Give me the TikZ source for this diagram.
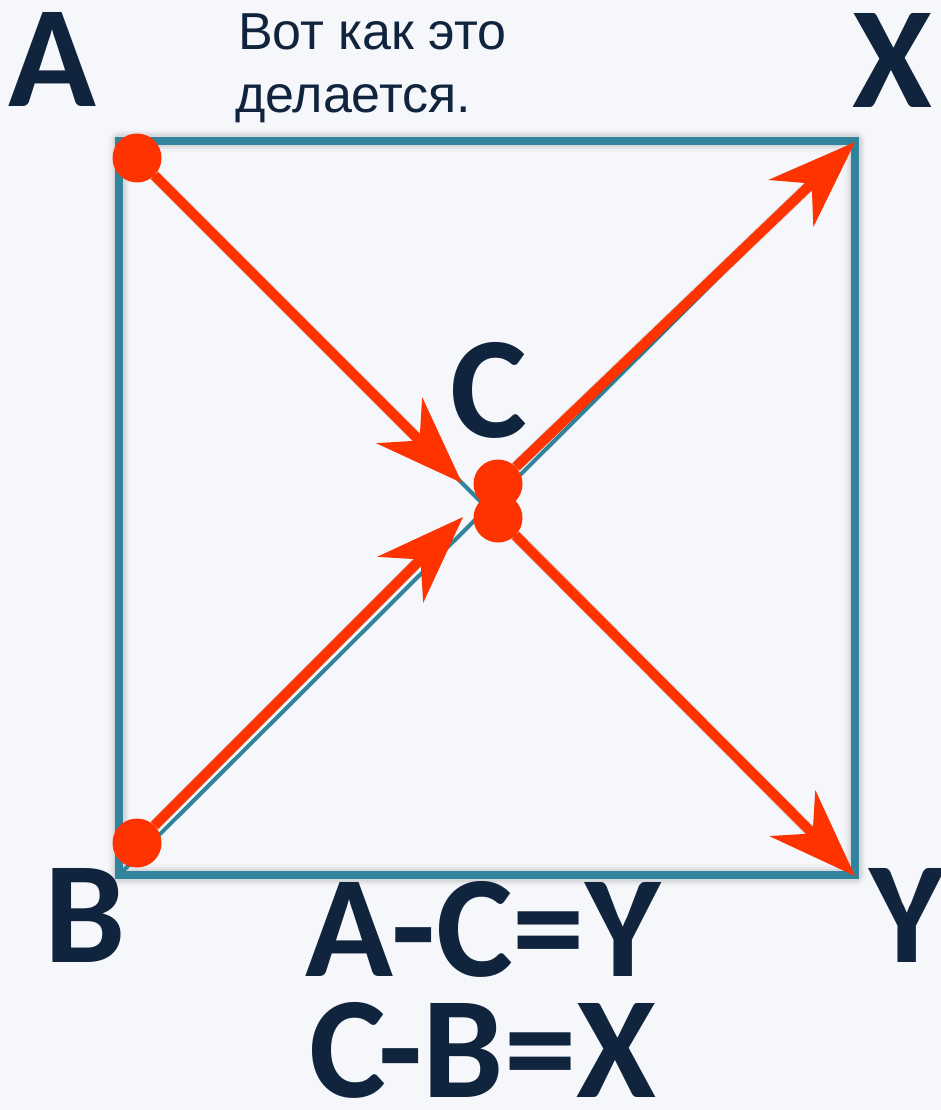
\documentclass[tikz,border=0pt]{standalone}
\usepackage{fontspec}
\newfontfamily\carl{Carlito}
\newfontfamily\arl{Liberation Sans}
\usetikzlibrary{arrows.meta}
\definecolor{redA}{HTML}{FF3300}
\definecolor{tealA}{HTML}{31849B}
\definecolor{navy}{HTML}{10243E}
\definecolor{bgc}{HTML}{F6F7FB}
\pgfdeclarelayer{back}
\pgfdeclarelayer{mid}
\pgfsetlayers{back,mid,main}
\begin{document}
\begin{tikzpicture}[x=1pt,y=-1pt,
  frame/.style={draw=tealA, line width=7.5pt},
  diag/.style={draw=tealA, line width=4pt},
  glow/.style={draw=black, line cap=round, line join=round},
  vec/.style={draw=redA, line width=10pt, -{Stealth[length=88pt,width=64pt,inset=28pt]}},
  vecsh/.style={draw=black, opacity=0.10, line width=12pt, -{Stealth[length=88pt,width=64pt,inset=28pt]}},
  dot/.style={circle, fill=redA, inner sep=0pt, minimum size=49pt},
  big/.style={text=navy, font=\carl\bfseries\fontsize{145}{145}\selectfont, inner sep=0pt},
  small/.style={text=navy, font=\arl\fontsize{52}{63}\selectfont, inner sep=0pt}]
\useasboundingbox (0,0) rectangle (941,1110);
% corners
\coordinate (A) at (119,141);
\coordinate (X) at (855,141);
\coordinate (B) at (119,875);
\coordinate (Y) at (855,875);
% arrow tips
\coordinate (tAC) at (462,483);
\coordinate (tBC) at (463,517);
\coordinate (tX) at (855,142);
\coordinate (tY) at (855,876);
% dots
\node[dot] (dA) at (137,158) {};
\node[dot] (dB) at (137,843) {};
\node[dot] (dC1) at (498,484) {};
\node[dot] (dC2) at (498,518) {};
\begin{pgfonlayer}{back}
  \fill[bgc] (0,0) rectangle (941,1110);
  \begin{scope}[shift={(-3,-3)}]
    \draw[glow, line width=22pt, opacity=0.025] (A) -- (X) -- (Y) -- (B) -- cycle;
    \draw[glow, line width=17pt, opacity=0.04] (A) -- (X) -- (Y) -- (B) -- cycle;
    \draw[glow, line width=13pt, opacity=0.06] (A) -- (X) -- (Y) -- (B) -- cycle;
  \end{scope}
  \draw[diag] (A) -- (Y);
  \draw[diag] (B) -- (X);
  \draw[frame] (A) -- (X) -- (Y) -- (B) -- cycle;
\end{pgfonlayer}
\begin{pgfonlayer}{mid}
  \begin{scope}[shift={(3,3)}]
    \draw[vecsh] (dA) -- (tAC);
    \draw[vecsh] (dB) -- (tBC);
    \draw[vecsh] (dC1) -- (tX);
    \draw[vecsh] (dC2) -- (tY);
  \end{scope}
  \draw[vec] (dA) -- (tAC);
  \draw[vec] (dB) -- (tBC);
  \draw[vec] (dC1) -- (tX);
  \draw[vec] (dC2) -- (tY);
\end{pgfonlayer}
% labels
\node[big, anchor=base] (lA) at (52.5,107) {A};
\node[big, anchor=base] (lX) at (892,108) {X};
\node[big, anchor=base] (lB) at (85,962) {B};
\node[big, anchor=base] (lY) at (907,962) {Y};
\node[big, anchor=base] (lC) at (489,437) {C};
\node[big, anchor=base] (eq1) at (483,976) {A-C=Y};
\node[big, anchor=base] (eq2) at (483,1097) {C-B=X};
\node[small, anchor=base west] (t1) at (238,50) {Вот как это};
\node[small, anchor=base west] (t2) at (235,113) {делается.};
\end{tikzpicture}
\end{document}
